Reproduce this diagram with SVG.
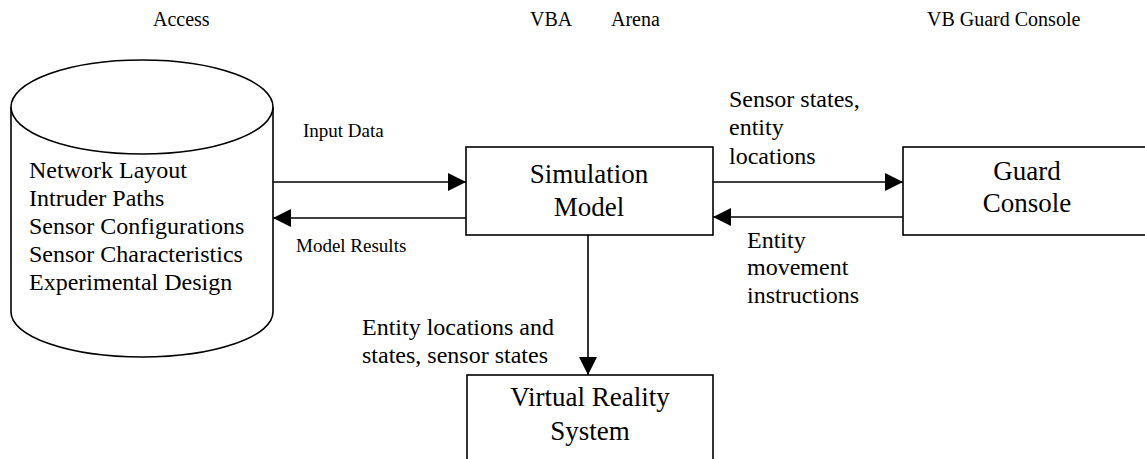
<svg xmlns="http://www.w3.org/2000/svg" width="1145" height="459" viewBox="0 0 1145 459">
<defs>
<marker id="ah" markerUnits="userSpaceOnUse" markerWidth="18" markerHeight="18" refX="18" refY="9" orient="auto">
<path d="M0,0 L18,9 L0,18 z" fill="#000"/>
</marker>
<style>
text{font-family:"Liberation Serif","Times New Roman",serif;fill:#000}
.hd{font-size:20px}
.db{font-size:24px}
.bx{font-size:27px;text-anchor:middle}
.lb{font-size:24px}
.sm{font-size:19px}
.shape{fill:#fff;stroke:#000;stroke-width:1.6}
.conn{stroke:#000;stroke-width:1.6;fill:none;marker-end:url(#ah)}
</style>
</defs>
<rect width="1145" height="459" fill="#fff"/>
<g id="headers">
<text class="hd" x="153" y="26">Access</text>
<text class="hd" x="530" y="26">VBA</text>
<text class="hd" x="611" y="26">Arena</text>
<text class="hd" x="927" y="26">VB Guard Console</text>
</g>
<g id="database">
<path class="shape" d="M11,107 L11,312 A131,45 0 0 0 273,312 L273,107"/>
<ellipse class="shape" cx="142" cy="107" rx="131" ry="47"/>
<text class="db" x="29" y="178">Network Layout</text>
<text class="db" x="29" y="206">Intruder Paths</text>
<text class="db" x="29" y="234">Sensor Configurations</text>
<text class="db" x="29" y="262">Sensor Characteristics</text>
<text class="db" x="29" y="290">Experimental Design</text>
</g>
<g id="simulation-model">
<rect class="shape" x="466" y="147" width="247" height="88"/>
<text class="bx" x="589" y="183">Simulation</text>
<text class="bx" x="589" y="216">Model</text>
</g>
<g id="guard-console">
<rect class="shape" x="903" y="147" width="260" height="88"/>
<text class="bx" x="1027" y="180">Guard</text>
<text class="bx" x="1027" y="212">Console</text>
</g>
<g id="virtual-reality">
<rect class="shape" x="467" y="375" width="246" height="110"/>
<text class="bx" x="590" y="406">Virtual Reality</text>
<text class="bx" x="590" y="440">System</text>
</g>
<g id="connectors">
<line class="conn" x1="273" y1="182" x2="466" y2="182"/>
<line class="conn" x1="466" y1="218" x2="273" y2="218"/>
<line class="conn" x1="713" y1="182" x2="903" y2="182"/>
<line class="conn" x1="903" y1="217" x2="713" y2="217"/>
<line class="conn" x1="588" y1="235" x2="588" y2="375"/>
</g>
<g id="labels">
<text class="sm" x="303" y="137">Input Data</text>
<text class="sm" x="296" y="252">Model Results</text>
<text class="lb" x="729" y="107">Sensor states,</text>
<text class="lb" x="729" y="135">entity</text>
<text class="lb" x="729" y="164">locations</text>
<text class="lb" x="747" y="248">Entity</text>
<text class="lb" x="747" y="275">movement</text>
<text class="lb" x="747" y="303">instructions</text>
<text class="lb" x="362" y="335">Entity locations and</text>
<text class="lb" x="362" y="363">states, sensor states</text>
</g>
</svg>
